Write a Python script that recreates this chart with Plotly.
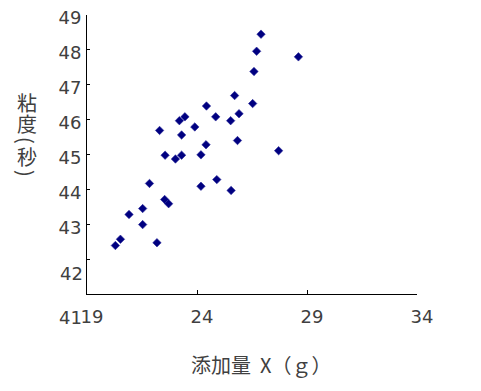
import plotly.graph_objects as go

# Data
additive_g = [26.91, 26.71, 28.61, 26.59, 25.71, 24.43, 26.53, 24.85, 25.91, 25.53,
              23.20, 23.45, 23.90, 22.30, 23.30, 25.84, 24.41, 27.71, 22.55, 23.30,
              23.02, 24.18, 21.84, 24.18, 24.90, 25.55, 22.53, 22.71, 21.53, 20.91,
              21.53, 20.52, 20.29, 22.18]
viscosity_s = [48.45, 47.96, 47.80, 47.38, 46.69, 46.39, 46.46, 46.08, 46.17, 45.97,
               45.97, 46.08, 45.79, 45.69, 45.56, 45.40, 45.28, 45.11, 44.98, 44.98,
               44.87, 44.99, 44.17, 44.09, 44.28, 43.97, 43.71, 43.59, 43.45, 43.28,
               42.99, 42.57, 42.39, 42.47]

x_ticks = [19, 24, 29, 34]
y_ticks = [42, 43, 44, 45, 46, 47, 48, 49]
y_ticktext = ["", "43", "44", "45", "46", "47", "48", "49"]

x_title = "添加量\u00a0\u00a0X（ｇ）"
# vertical title: characters, and rotation angle for each (parens turned)
y_title_chars = ["粘", "度", "(", "秒", ")"]
y_title_angles = [0, 0, 90, 0, 90]

tick_font = dict(family="DejaVu Sans", size=18, color="#404040")
title_font = dict(family="Noto Sans CJK JP", size=20, color="#404040")

fig = go.Figure()
fig.add_trace(go.Scatter(
    x=additive_g, y=viscosity_s, mode="markers",
    marker=dict(symbol="diamond", size=6.5, color="#000080",
                line=dict(color="#2a2a9a", width=0.6)),
    cliponaxis=False, showlegend=False,
))

fig.update_layout(
    width=481, height=391,
    margin=dict(l=87, r=64, t=15, b=97),
    plot_bgcolor="white", paper_bgcolor="white",
    xaxis=dict(range=[19, 34], tickvals=x_ticks, ticks="inside", ticklen=4,
               tickcolor="black", showline=True, linecolor="black", linewidth=1,
               showgrid=False, zeroline=False, tickfont=tick_font, automargin=False,
               ticklabelshift=5, ticklabelstandoff=6),
    yaxis=dict(range=[41, 49], tickvals=y_ticks, ticktext=y_ticktext,
               ticks="inside", ticklen=3, tickcolor="black", showline=True,
               linecolor="black", linewidth=1, showgrid=False, zeroline=False,
               tickfont=tick_font, automargin=False, ticklabelshift=3,
               ticklabelstandoff=1),
)

# Offset labels for 42 and 41 as in the reference
fig.add_annotation(x=0, xref="paper", y=41.6, yref="y", text="42", showarrow=False,
                   xanchor="right", yanchor="middle", xshift=-2, font=tick_font)
fig.add_annotation(x=0, xref="paper", y=-0.086, yref="paper", text="41", showarrow=False,
                   xanchor="right", yanchor="middle", xshift=-3, font=tick_font)

fig.add_annotation(x=0.526, xref="paper", y=-0.251, yref="paper", text=x_title,
                   showarrow=False, xanchor="center", yanchor="middle", font=title_font)

y_char_px = [102.5, 123, 140, 157, 173]
for ch, ang, py in zip(y_title_chars, y_title_angles, y_char_px):
    fig.add_annotation(x=0, xref="paper", y=(294 - py) / 279, yref="paper", text=ch,
                       textangle=ang, showarrow=False, xanchor="center",
                       yanchor="middle", xshift=-60, font=title_font)

fig.write_html("out.html")
